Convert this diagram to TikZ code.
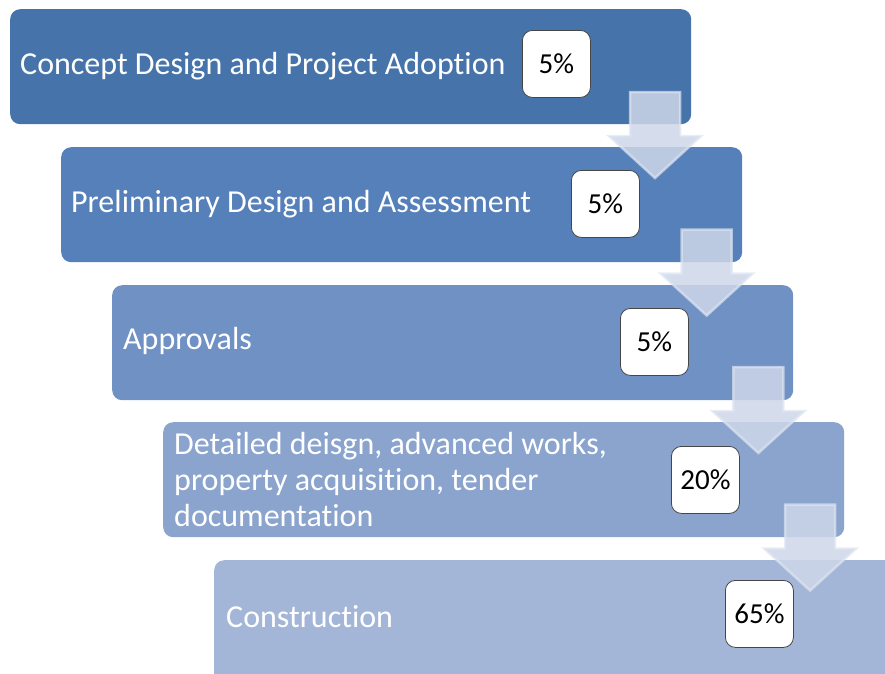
\documentclass[tikz,border=0pt]{standalone}
\usepackage{fontspec}
\setmainfont{Carlito}[Ligatures=CommonOff]
\definecolor{c1}{RGB}{70,116,170}
\definecolor{c2}{RGB}{85,128,186}
\definecolor{c3}{RGB}{111,145,196}
\definecolor{c4}{RGB}{138,164,206}
\definecolor{c5}{RGB}{163,182,215}
\definecolor{pctborder}{RGB}{70,70,70}
\definecolor{arrowfill}{RGB}{206,215,233}
\definecolor{arrowedge}{RGB}{222,229,241}
\tikzset{
  stage/.style={rounded corners=10pt, minimum width=681pt, minimum height=115pt, anchor=north west, inner sep=0pt},
  lbl/.style={anchor=west, text=white, font=\fontsize{32}{36}\selectfont, align=left, inner sep=0pt},
  pct/.style={draw=pctborder, line width=0.8pt, fill=white, rounded corners=10pt, minimum width=68pt, minimum height=67pt, anchor=north west, inner sep=0pt, font=\fontsize{29}{32}\selectfont},
  downarrow/.style={fill=arrowfill, fill opacity=0.85, draw=arrowedge, draw opacity=0.7, line width=2.5pt}
}
\begin{document}
\begin{tikzpicture}[x=1pt,y=-1pt]
\useasboundingbox (0,0) rectangle (885,673);
\clip (0,0) rectangle (885,673);
% stages
\node[stage, fill=c1] (s1) at (10,9) {};
\node[lbl] (t1) at (20,66) {Concept Design and Project Adoption};
\node[pct] (p1) at (522,30) {5\%};
\node[stage, fill=c2] (s2) at (61,147) {};
\node[lbl] (t2) at (71,204) {Preliminary Design and Assessment};
\node[pct] (p2) at (571,170) {5\%};
\node[stage, fill=c3] (s3) at (112,285) {};
\node[lbl] (t3) at (123,341) {Approvals};
\node[pct] (p3) at (620,308) {5\%};
\node[stage, fill=c4] (s4) at (163,422) {};
\node[lbl] (t4) at (174,479) {Detailed deisgn, advanced works,\\property acquisition, tender\\documentation};
\node[pct] (p4) at (671,446) {20\%};
\node[stage, fill=c5, minimum width=700pt, minimum height=130pt] (s5) at (214,560) {};
\node[lbl] (t5) at (226,617) {Construction};
\node[pct] (p5) at (725,580) {65\%};
% arrows
\foreach \i in {0,1,2,3} {
  \pgfmathsetmacro{\dx}{51.7*\i}
  \pgfmathsetmacro{\dy}{137.5*\i}
  \draw[downarrow] (630+\dx,92+\dy) -- (680+\dx,92+\dy) -- (680+\dx,136+\dy) -- (701+\dx,136+\dy)
     -- (655+\dx,178+\dy) -- (609+\dx,136+\dy) -- (630+\dx,136+\dy) -- cycle;
}
\end{tikzpicture}
\end{document}
